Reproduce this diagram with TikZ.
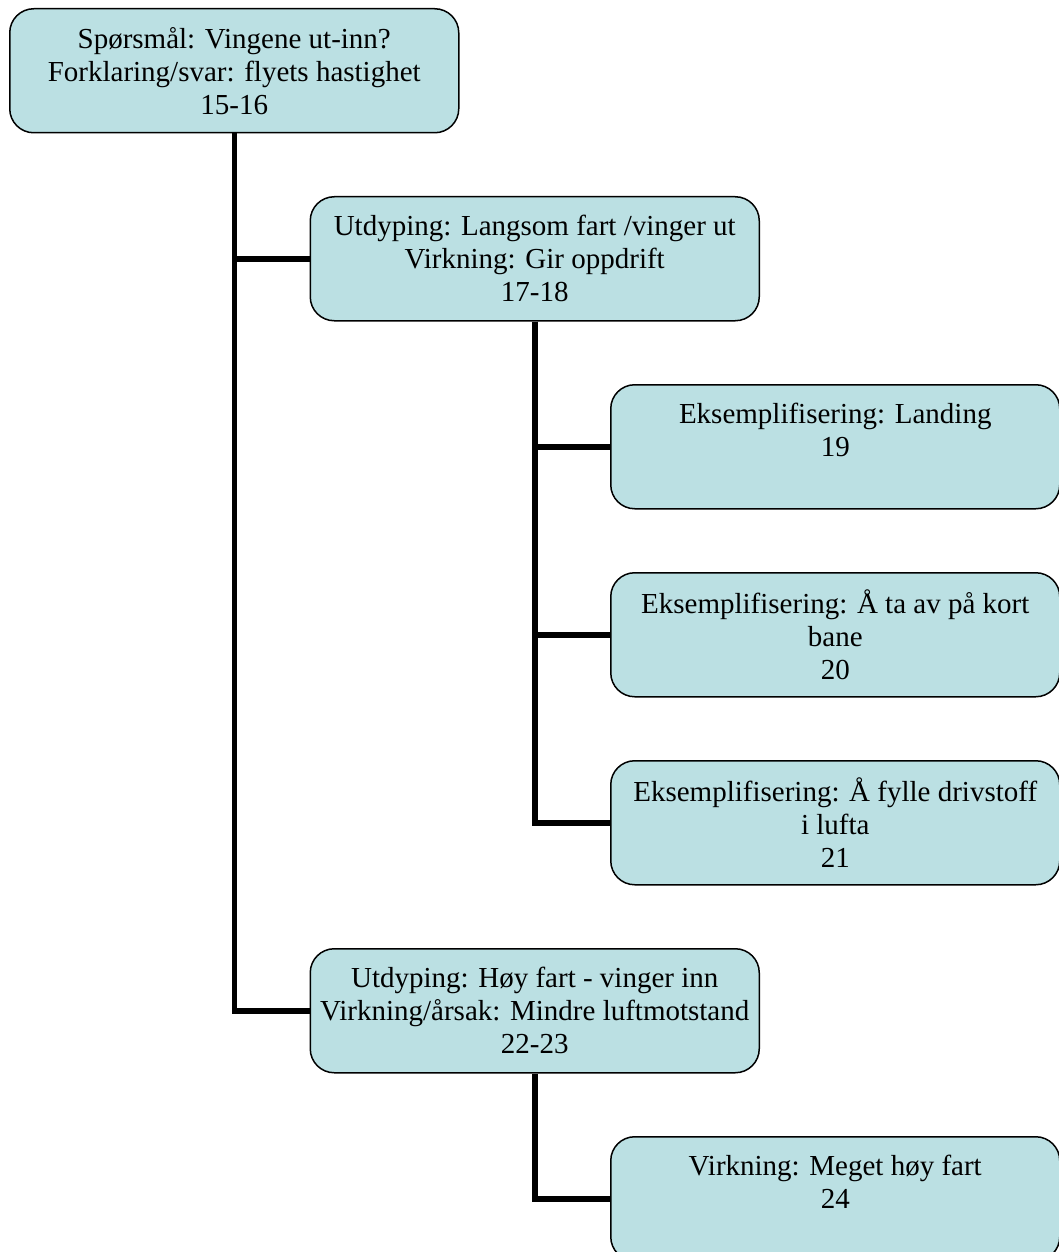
\documentclass[tikz,border=0pt]{standalone}
\usepackage{fontspec}
\setmainfont{Liberation Serif}
\usetikzlibrary{positioning}
\definecolor{orgteal}{RGB}{187,224,227}

\begin{document}
\begin{tikzpicture}[
    x=1pt, y=1pt,
    box/.style={rectangle, rounded corners=24pt, draw=black, line width=1.5pt, fill=orgteal, minimum width=449pt, minimum height=124pt, inner sep=0pt, align=center, font=\fontsize{29}{33}\selectfont},
    link/.style={line width=5.5pt, color=black}
]
\useasboundingbox (0,0) rectangle (1058,-1252);
\node[box, anchor=north west] (question) at (9,-8) {Spørsmål: Vingene ut-inn?\\Forklaring/svar: flyets hastighet\\15-16};
\node[box, below right=62.5pt and -150pt of question] (slow) {Utdyping: Langsom fart /vinger ut\\Virkning: Gir oppdrift\\17-18};
\node[box, below right=62.5pt and -150pt of slow] (landing) {Eksemplifisering: Landing\\19\\\mbox{}};
\node[box, below=62.5pt of landing] (takeoff) {Eksemplifisering: Å ta av på kort\\bane\\20};
\node[box, below=62.5pt of takeoff] (fuel) {Eksemplifisering: Å fylle drivstoff\\i lufta\\21};
\node[box, below left=62.5pt and -150pt of fuel] (fast) {Utdyping: Høy fart - vinger inn\\Virkning/årsak: Mindre luftmotstand\\22-23};
\node[box, below right=62.5pt and -150pt of fast] (speed) {Virkning: Meget høy fart\\24\\\mbox{}};
\draw[link] (question.south) |- (slow.west);
\draw[link] (question.south) |- (fast.west);
\draw[link] (slow.south) |- (landing.west);
\draw[link] (slow.south) |- (takeoff.west);
\draw[link] (slow.south) |- (fuel.west);
\draw[link] (fast.south) |- (speed.west);
\end{tikzpicture}
\end{document}
